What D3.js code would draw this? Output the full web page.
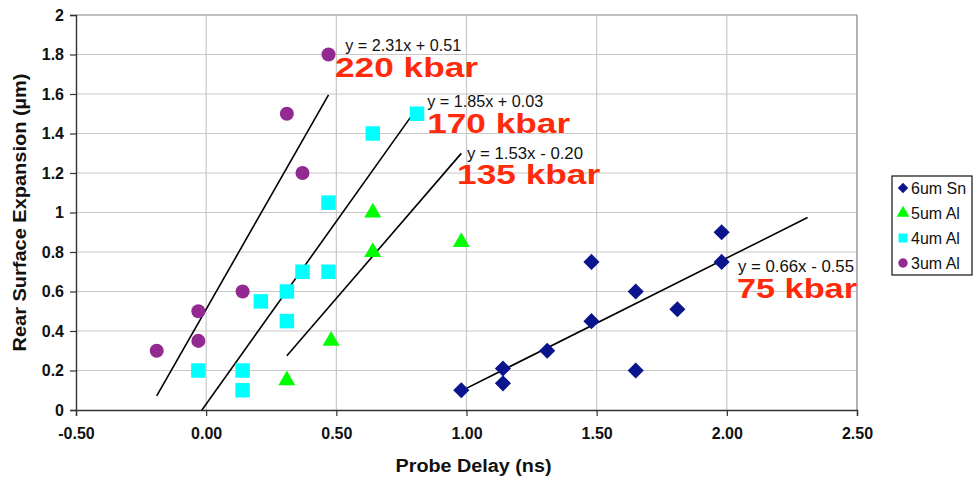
<!DOCTYPE html>
<html><head><meta charset="utf-8">
<script src="https://cdn.jsdelivr.net/npm/d3@7"></script>
<style>body{margin:0;background:#fff}svg{display:block}text{font-family:Arial,"Liberation Sans",sans-serif}</style>
</head><body><svg id="c" width="974" height="480"></svg>
<script>
// ---- data ----
const sn6X = [0.98, 1.14, 1.14, 1.31, 1.48, 1.48, 1.65, 1.65, 1.81, 1.98, 1.98];
const sn6Y = [0.10, 0.21, 0.135, 0.30, 0.45, 0.75, 0.60, 0.20, 0.51, 0.90, 0.75];
const al5X = [0.31, 0.48, 0.64, 0.64, 0.98];
const al5Y = [0.15, 0.35, 1.00, 0.80, 0.85];
const al4X = [-0.03, 0.14, 0.14, 0.21, 0.31, 0.31, 0.37, 0.47, 0.47, 0.64, 0.81];
const al4Y = [0.20, 0.20, 0.10, 0.55, 0.60, 0.45, 0.70, 1.05, 0.70, 1.40, 1.50];
const al3X = [-0.19, -0.03, -0.03, 0.14, 0.31, 0.37, 0.47];
const al3Y = [0.30, 0.50, 0.35, 0.60, 1.50, 1.20, 1.80];
const seriesNames = ["6um Sn", "5um Al", "4um Al", "3um Al"];
// trendlines: slope, intercept, x start, x end
const trendSlope = [0.66, 1.53, 1.85, 2.31];
const trendIntercept = [-0.55, -0.20, 0.03, 0.51];
const trendX0 = [0.98, 0.31, -0.03, -0.19];
const trendX1 = [2.31, 0.98, 0.81, 0.47];
const eqLabels = ["y = 0.66x - 0.55", "y = 1.53x - 0.20", "y = 1.85x + 0.03", "y = 2.31x + 0.51"];
const eqPosX = [2.043, 1.002, 0.849, 0.534];
const eqPosY = [0.699, 1.271, 1.534, 1.818];
const kbarLabels = ["75 kbar", "135 kbar", "170 kbar", "220 kbar"];
const kbarPosX = [2.039, 0.964, 0.849, 0.495];
const kbarPosY = [0.567, 1.144, 1.403, 1.686];
const xTicks = [-0.5, 0, 0.5, 1.0, 1.5, 2.0, 2.5];
const yTicks = [0, 0.2, 0.4, 0.6, 0.8, 1, 1.2, 1.4, 1.6, 1.8, 2];

// ---- style ----
const colors = ["#0a148c", "#00ff00", "#00ffff", "#922a92"];
const shapes = [d3.symbolSquare, d3.symbolTriangle, d3.symbolSquare, d3.symbolCircle];
const rot = [45, 0, 0, 0];
const sizes = [130, 125, 210, 155];
const L = 76, R = 857, T = 15, B = 410;

const svg = d3.select("#c");
const x = d3.scaleLinear().domain([-0.5, 2.5]).range([L, R]);
const y = d3.scaleLinear().domain([0, 2]).range([B, T]);

// grid
svg.append("g").selectAll("line").data(yTicks.slice(1)).join("line")
  .attr("x1", L).attr("x2", R).attr("y1", d => y(d)).attr("y2", d => y(d))
  .attr("stroke", d => d === 2 ? "#808080" : "#c8c8c8").attr("stroke-width", 1.2);
svg.append("g").selectAll("line").data(xTicks.slice(1)).join("line")
  .attr("y1", T).attr("y2", B).attr("x1", d => x(d)).attr("x2", d => x(d))
  .attr("stroke", d => d === 2.5 ? "#808080" : "#c8c8c8").attr("stroke-width", 1.2);

// axes
const xAxis = svg.append("g").attr("transform", `translate(0,${B})`)
  .call(d3.axisBottom(x).tickValues(xTicks).tickFormat(d => d.toFixed(2)).tickSize(6).tickPadding(12));
const yAxis = svg.append("g").attr("transform", `translate(${L},0)`)
  .call(d3.axisLeft(y).tickValues(yTicks).tickFormat(d3.format("")).tickSize(6).tickPadding(6));
[xAxis, yAxis].forEach(a => {
  a.select(".domain").attr("stroke", "#333").attr("stroke-width", 1.4);
  a.selectAll(".tick line").attr("stroke", "#333").attr("stroke-width", 1.2);
  a.selectAll("text").attr("font-size", 16).attr("font-weight", "bold").attr("fill", "#111")
    .style("font-family", "Arial, 'Liberation Sans', sans-serif");
});

// titles
svg.append("text").attr("x", (L + R) / 2 + 7).attr("y", 472).attr("text-anchor", "middle")
  .attr("font-size", 18).attr("font-weight", "bold").attr("fill", "#111")
  .attr("textLength", 156).attr("lengthAdjust", "spacingAndGlyphs").text("Probe Delay (ns)");
svg.append("text").attr("transform", `translate(26,${(T + B) / 2}) rotate(-90)`).attr("text-anchor", "middle")
  .attr("font-size", 18).attr("font-weight", "bold").attr("fill", "#111")
  .attr("textLength", 278).attr("lengthAdjust", "spacingAndGlyphs").text("Rear Surface Expansion (µm)");

// trendlines
svg.append("clipPath").attr("id", "pa").append("rect")
  .attr("x", L).attr("y", T).attr("width", R - L).attr("height", B - T);
svg.append("g").attr("clip-path", "url(#pa)").selectAll("line").data(d3.range(4)).join("line")
  .attr("x1", i => x(trendX0[i])).attr("x2", i => x(trendX1[i]))
  .attr("y1", i => y(trendSlope[i] * trendX0[i] + trendIntercept[i]))
  .attr("y2", i => y(trendSlope[i] * trendX1[i] + trendIntercept[i]))
  .attr("stroke", "#000").attr("stroke-width", 1.6);

// points
const allX = [sn6X, al5X, al4X, al3X], allY = [sn6Y, al5Y, al4Y, al3Y];
[3, 2, 1, 0].forEach(s => {
  svg.append("g").selectAll("path").data(allX[s].map((v, i) => [v, allY[s][i]])).join("path")
    .attr("transform", d => `translate(${x(d[0])},${y(d[1])}) rotate(${rot[s]})`)
    .attr("d", d3.symbol(shapes[s], sizes[s])).attr("fill", colors[s]);
});

// annotations
svg.append("g").selectAll("text").data(d3.range(4)).join("text")
  .attr("x", i => x(eqPosX[i])).attr("y", i => y(eqPosY[i]))
  .attr("font-size", 16).attr("fill", "#111").attr("textLength", 116).attr("lengthAdjust", "spacingAndGlyphs")
  .text(i => eqLabels[i]);
svg.append("g").selectAll("text").data(d3.range(4)).join("text")
  .attr("x", i => x(kbarPosX[i])).attr("y", i => y(kbarPosY[i]))
  .attr("font-size", 27).attr("font-weight", "bold").attr("fill", "#ff2a0a")
  .attr("textLength", i => i === 0 ? 120 : 143).attr("lengthAdjust", "spacingAndGlyphs")
  .text(i => kbarLabels[i]);

// legend
const lg = svg.append("g");
lg.append("rect").attr("x", 892).attr("y", 176).attr("width", 80).attr("height", 99)
  .attr("fill", "#fff").attr("stroke", "#111").attr("stroke-width", 1.2);
seriesNames.forEach((n, i) => {
  const yy = 188 + i * 25;
  lg.append("path").attr("transform", `translate(903,${yy}) rotate(${rot[i]})`)
    .attr("d", d3.symbol(shapes[i], [55, 70, 80, 70][i])).attr("fill", colors[i]);
  lg.append("text").attr("x", 911).attr("y", yy + 6).attr("font-size", 16).attr("fill", "#111").text(n);
});
</script></body></html>
